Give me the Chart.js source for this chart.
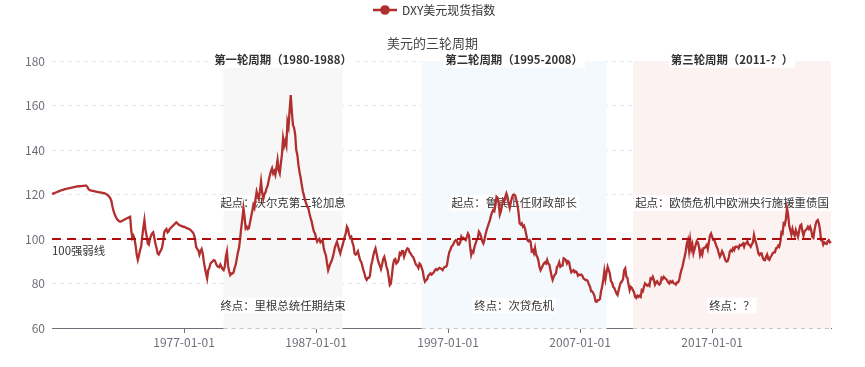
<!DOCTYPE html>
<html>
<head>
<meta charset="utf-8">
<script src="https://cdn.jsdelivr.net/npm/chart.js@4.4.1/dist/chart.umd.min.js"></script>
<style>
  html, body { margin: 0; padding: 0; background: #fff; }
  #wrap { width: 865px; height: 367px; }
</style>
</head>
<body>
<div id="wrap"><canvas id="dxy-chart" width="865" height="367"></canvas></div>
<script>
// monthly DXY values, first point 1967-01
const startYear = 1967;

const dxy1960s = [
  120.2,120.4,120.6,120.8,121.0,121.2,121.4,121.6,121.8,122.0,122.1,122.3,
  122.4,122.5,122.7,122.8,122.9,123.0,123.1,123.2,123.3,123.4,123.5,123.6,
  123.7,123.7,123.8,123.8,123.9,123.9,124.0,124.0,123.5,122.6,122.0,121.8
];
const dxy1970s = [
  121.7,121.6,121.5,121.4,121.3,121.2,121.1,121.0,120.9,120.8,120.7,120.6,
  120.5,120.2,120.0,119.5,119.0,118.3,117.0,114.5,112.5,111.0,110.0,109.0,
  108.5,108.0,107.8,108.0,108.2,108.5,108.8,109.0,109.3,109.5,109.8,110.0,
  104.0,100.5,101.5,100.0,97.0,93.0,90.6,92.5,95.0,96.5,101.0,105.0,
  108.5,104.0,101.5,98.0,97.5,100.0,101.5,102.5,103.0,100.5,98.0,96.0,
  93.5,93.0,94.0,95.0,96.0,99.0,103.0,104.0,104.5,103.0,103.5,104.5,
  105.0,105.5,106.0,106.5,107.0,107.5,107.0,106.5,106.2,106.0,105.8,105.5,
  105.5,105.3,105.0,104.8,104.6,104.4,104.0,103.5,103.0,102.0,100.0,96.5,
  95.5,95.0,93.0,94.5,95.5,93.5,89.8,87.0,84.5,82.3,86.0,87.0,
  89.0,89.5,90.0,90.5,90.3,89.0,88.0,87.5,87.3,88.5,87.5,86.5
];
const dxy1980s = [
  86.0,87.5,92.0,94.3,88.0,85.5,83.8,84.5,84.5,85.0,87.0,88.5,
  91.3,94.0,96.0,100.3,105.0,109.0,113.8,110.0,104.8,105.5,104.5,105.0,
  107.5,110.0,112.5,115.3,114.0,118.0,121.3,119.5,118.0,121.5,125.8,121.0,
  118.0,120.0,121.0,122.8,124.0,126.5,128.5,130.5,131.8,129.5,130.5,128.8,
  132.0,135.5,131.0,129.5,134.0,138.0,145.2,142.0,144.0,142.0,152.7,150.5,
  158.0,164.7,157.0,151.2,150.0,147.0,140.0,137.8,133.3,130.0,127.5,124.3,
  121.5,119.5,117.5,116.0,114.5,113.8,111.5,109.5,107.8,105.5,103.3,102.5,
  100.5,98.8,99.5,100.0,98.5,99.0,99.5,95.8,94.0,92.5,89.0,86.0,
  87.5,89.0,90.0,91.5,93.5,96.0,97.5,98.8,97.0,95.0,93.5,95.5,
  97.0,99.0,101.0,102.5,105.5,104.5,102.0,100.5,101.0,98.5,97.0,93.5
];
const dxy1990s = [
  93.0,93.5,94.5,92.5,90.5,89.8,88.0,86.0,84.5,82.5,81.6,82.5,
  82.5,83.5,88.0,90.0,92.5,94.5,95.8,93.5,91.0,89.2,88.0,86.5,
  88.5,91.0,92.0,90.0,87.5,86.0,83.0,79.3,80.0,84.0,88.5,90.6,
  91.0,89.0,89.5,90.5,93.6,93.0,94.5,94.5,92.0,93.5,95.0,95.8,
  95.5,94.0,93.5,92.5,92.0,91.0,89.5,88.3,88.0,87.0,89.0,88.5,
  87.0,85.5,82.5,80.8,81.5,82.0,83.5,84.0,84.6,84.0,84.5,85.0,
  86.0,86.5,86.0,86.5,87.0,86.8,86.5,86.0,87.0,87.5,87.5,88.3,
  91.5,94.0,95.0,96.5,97.0,98.0,99.0,99.5,99.0,97.5,97.5,98.5,
  101.0,100.0,100.5,100.0,99.5,101.0,102.5,101.5,96.5,92.8,94.5,94.0,
  96.5,98.0,99.5,100.5,103.3,102.5,101.0,99.0,98.0,99.5,102.0,104.0
];
const dxy2000s = [
  105.5,107.0,108.5,110.5,112.0,113.0,112.5,115.0,119.0,118.5,116.0,111.0,
  112.5,115.0,117.5,117.0,119.0,120.5,119.0,116.0,114.0,116.5,118.5,119.8,
  120.0,119.5,117.5,115.5,112.0,107.1,106.5,107.0,105.5,106.0,104.5,102.0,
  99.6,99.0,99.5,98.8,94.5,95.0,93.6,96.0,93.0,92.0,90.5,87.5,
  86.0,87.0,88.0,89.0,89.5,89.0,90.6,89.0,88.5,86.0,83.5,81.6,
  83.0,84.0,84.5,87.5,88.0,89.5,87.5,88.0,88.0,91.3,91.0,90.5,
  89.0,90.0,89.5,86.8,85.0,85.5,86.0,85.0,85.5,85.0,83.5,84.0,
  83.8,84.0,83.5,82.3,82.0,81.5,81.6,81.0,79.5,78.6,76.5,76.5,
  75.6,74.5,72.0,71.8,72.5,72.5,73.0,76.5,78.5,81.6,85.5,82.0,
  85.0,87.5,86.0,84.5,81.0,80.5,78.6,78.0,76.8,75.5,74.8,77.0
];
const dxy2010s = [
  79.0,80.5,81.0,82.0,86.0,86.8,83.0,82.5,79.5,77.0,78.5,78.0,
  77.0,76.0,74.0,73.5,74.5,74.0,74.5,74.0,77.0,76.5,78.5,80.0,
  79.5,79.0,79.5,79.0,82.3,82.0,83.0,81.6,79.5,80.5,81.0,80.0,
  79.5,80.1,82.5,82.0,83.0,82.5,82.0,81.5,80.5,80.0,81.0,80.5,
  81.0,80.1,80.0,79.5,80.5,80.5,81.5,84.0,86.0,87.5,90.0,92.0,
  94.5,98.0,99.6,95.0,99.6,95.5,97.5,93.6,95.5,97.3,99.0,98.5,
  96.5,92.8,94.5,93.0,95.8,96.0,96.5,97.3,95.5,98.5,101.5,102.5,
  101.0,99.6,99.5,98.0,96.6,95.5,93.5,92.0,93.0,94.5,93.6,92.0,
  90.5,89.8,90.0,91.5,94.3,95.0,94.5,95.8,95.0,96.5,96.6,96.5,
  95.8,97.3,97.0,97.5,98.0,96.5,98.0,98.0,99.0,97.5,97.3,96.5
];
const dxy2020s = [
  97.5,98.5,101.8,99.5,98.0,96.0,93.5,92.8,93.5,93.5,91.5,90.6,
  90.5,92.0,93.0,91.0,90.6,92.0,92.5,93.6,94.0,94.0,95.8,96.0,
  97.0,96.5,98.8,103.0,102.5,107.0,106.5,109.0,113.8,111.0,106.0,104.0,
  102.0,104.5,102.5,101.5,104.0,102.5,101.0,103.5,106.0,106.5,103.5,101.5,
  103.5,104.0,104.5,105.5,104.5,105.5,104.0,101.0,100.5,104.0,106.5,108.0,
  108.5,107.0,104.0,99.5,99.5,97.5,98.5,98.0,97.8,99.0,99.5,98.5,
  99.0
];

const seriesName = 'DXY美元现货指数';
const chartTitle = '美元的三轮周期';
const xTickLabels = ['1977-01-01', '1987-01-01', '1997-01-01', '2007-01-01', '2017-01-01'];

const cycleNames = ['第一轮周期（1980-1988）', '第二轮周期（1995-2008）', '第三轮周期（2011-？）'];
const cycleStarts = ['1980-01-01', '1995-01-01', '2011-01-01'];
const cycleEnds = ['1989-01-01', '2009-01-01', '2026-01-01'];
const cycleStartNotes = ['起点：沃尔克第二轮加息', '起点：鲁宾上任财政部长', '起点：欧债危机中欧洲央行施援重债国'];
const cycleEndNotes = ['终点：里根总统任期结束', '终点：次贷危机', '终点：？'];
const strongWeakLevel = 100;
const strongWeakLabel = '100强弱线';

const dxyValues = [].concat(dxy1960s, dxy1970s, dxy1980s, dxy1990s, dxy2000s, dxy2010s, dxy2020s);

// month labels like 1977-01-01
const dateLabels = dxyValues.map((v, i) => {
  const y = startYear + Math.floor(i / 12);
  const m = (i % 12) + 1;
  return y + '-' + String(m).padStart(2, '0') + '-01';
});

const FONT = '"Noto Sans CJK SC", "Noto Sans", sans-serif';
const LINE_COLOR = '#b12f2f';
const cycleColors = ['#f7f7f7', '#f3f9fd', '#fdf2f2'];

function drawBoxedText(ctx, text, x, y, font, color, bg) {
  ctx.font = font;
  const w = ctx.measureText(text).width;
  ctx.fillStyle = bg;
  ctx.fillRect(x - w / 2 - 2, y - 8, w + 4, 16);
  ctx.fillStyle = color;
  ctx.textAlign = 'center';
  ctx.textBaseline = 'middle';
  ctx.fillText(text, x, y);
}

const cyclePlugin = {
  id: 'cycles',
  beforeDatasetsDraw(chart) {
    const ctx = chart.ctx;
    const xs = chart.scales.x;
    const area = chart.chartArea;
    ctx.save();
    cycleStarts.forEach((s, i) => {
      const x0 = xs.getPixelForValue(dateLabels.indexOf(s));
      const x1 = xs.getPixelForValue(dateLabels.indexOf(cycleEnds[i]));
      ctx.fillStyle = cycleColors[i];
      ctx.fillRect(x0, area.top, x1 - x0, area.bottom - area.top + 1);
      // dashed bottom edge inside region
      ctx.strokeStyle = '#c4c7cf';
      ctx.lineWidth = 1;
      ctx.setLineDash([4, 4]);
      ctx.beginPath();
      ctx.moveTo(x0, area.bottom + 0.5);
      ctx.lineTo(x1, area.bottom + 0.5);
      ctx.stroke();
      ctx.setLineDash([]);
      const cx = (x0 + x1) / 2;
      drawBoxedText(ctx, cycleStartNotes[i], cx, 203, '11.4px ' + FONT, '#333', 'rgba(255,255,255,0.85)');
      drawBoxedText(ctx, cycleEndNotes[i], cx, 305.5, '11.4px ' + FONT, '#333', 'rgba(255,255,255,0.85)');
    });
    ctx.font = '11.4px ' + FONT;
    ctx.fillStyle = '#333';
    ctx.textAlign = 'left';
    ctx.textBaseline = 'middle';
    ctx.fillText(strongWeakLabel, area.left, 250.5);
    ctx.restore();
  },
  afterDatasetsDraw(chart) {
    const ctx = chart.ctx;
    const area = chart.chartArea;
    const y = chart.scales.y.getPixelForValue(strongWeakLevel);
    ctx.save();
    ctx.strokeStyle = '#b00d0d';
    ctx.lineWidth = 2;
    ctx.setLineDash([9, 6]);
    ctx.beginPath();
    ctx.moveTo(area.left, y);
    ctx.lineTo(area.right, y);
    ctx.stroke();
    ctx.restore();
  },
  afterDraw(chart) {
    const ctx = chart.ctx;
    const xs = chart.scales.x;
    ctx.save();
    cycleStarts.forEach((s, i) => {
      const x0 = xs.getPixelForValue(dateLabels.indexOf(s));
      const x1 = xs.getPixelForValue(dateLabels.indexOf(cycleEnds[i]));
      drawBoxedText(ctx, cycleNames[i], (x0 + x1) / 2, 60, 'bold 11.4px ' + FONT, '#333', '#fff');
    });
    // title
    ctx.font = '13px ' + FONT;
    ctx.fillStyle = '#464646';
    ctx.textAlign = 'center';
    ctx.textBaseline = 'middle';
    ctx.fillText(chartTitle, 432.5, 43);
    // legend
    ctx.strokeStyle = LINE_COLOR;
    ctx.lineWidth = 2.5;
    ctx.beginPath();
    ctx.moveTo(373, 10);
    ctx.lineTo(397, 10);
    ctx.stroke();
    ctx.fillStyle = LINE_COLOR;
    ctx.beginPath();
    ctx.arc(385, 10, 4.8, 0, Math.PI * 2);
    ctx.fill();
    ctx.font = '12px ' + FONT;
    ctx.fillStyle = '#333';
    ctx.textAlign = 'left';
    ctx.fillText(seriesName, 402, 10);
    ctx.restore();
  }
};

new Chart(document.getElementById('dxy-chart').getContext('2d'), {
  type: 'line',
  data: {
    labels: dateLabels,
    datasets: [{
      label: seriesName,
      data: dxyValues,
      borderColor: LINE_COLOR,
      borderWidth: 2.3,
      pointRadius: 0,
      tension: 0,
      fill: false
    }]
  },
  options: {
    responsive: false,
    animation: false,
    devicePixelRatio: 1,
    layout: { padding: { top: 61, right: 34, bottom: 0, left: 0 } },
    plugins: {
      legend: { display: false },
      title: { display: false },
      tooltip: { enabled: false }
    },
    scales: {
      x: {
        type: 'category',
        offset: false,
        afterFit: function(scale) { scale.height = 39; },
        border: { display: true, color: '#6e7079', width: 1 },
        grid: { drawOnChartArea: false, drawTicks: true, tickLength: 5, color: '#6e7079' },
        ticks: {
          autoSkip: false,
          maxRotation: 0,
          padding: 2,
          color: '#6e7079',
          font: { family: FONT, size: 12 },
          callback: function(value, index) {
            const lab = dateLabels[index];
            return xTickLabels.includes(lab) ? lab : null;
          }
        }
      },
      y: {
        min: 60,
        max: 180,
        afterFit: function(scale) { scale.width = 52; },
        border: { display: false, dash: [4, 4] },
        grid: { color: '#e0e6f1', drawTicks: false },
        ticks: {
          stepSize: 20,
          padding: 7,
          color: '#6e7079',
          font: { family: FONT, size: 12 }
        }
      }
    }
  },
  plugins: [cyclePlugin]
});
</script>
</body>
</html>
